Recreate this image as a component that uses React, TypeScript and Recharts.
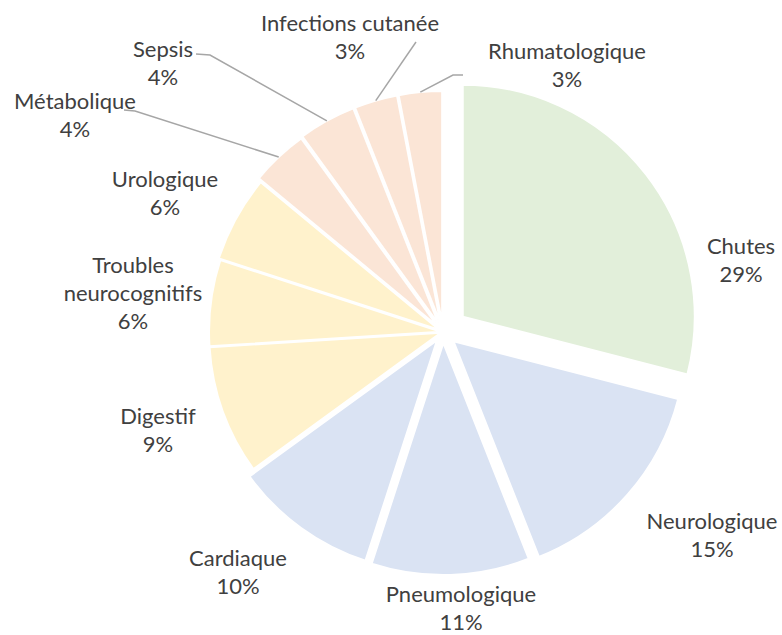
import React from "react";
import { PieChart, Pie, Cell } from "recharts";

// motifs d'hospitalisation, en % (ordre horaire depuis midi)
const categories = [
  "Chutes",
  "Neurologique",
  "Pneumologique",
  "Cardiaque",
  "Digestif",
  "Troubles neurocognitifs",
  "Urologique",
  "Métabolique",
  "Sepsis",
  "Infections cutanée",
  "Rhumatologique",
];
const shares = [29, 15, 11, 10, 9, 6, 6, 4, 4, 3, 3];

const green = "#E2EFDA";
const blue = "#DAE3F3";
const yellow = "#FFF2CC";
const peach = "#FBE5D6";
const sliceColors = [green, blue, blue, blue, yellow, yellow, yellow, peach, peach, peach, peach];

// explosion of each slice, px
const explode = [25, 14, 11, 10, 2, 2, 4, 8, 9, 9, 9];

// label placement (center x, center y of first line)
const labelPos: Record<string, [number, number]> = {
  Chutes: [741, 245],
  Neurologique: [712, 520],
  Pneumologique: [461, 593],
  Cardiaque: [238, 557],
  Digestif: [158, 415],
  "Troubles neurocognitifs": [133, 264],
  Urologique: [165, 178],
  Métabolique: [75, 100],
  Sepsis: [163, 48],
  "Infections cutanée": [350, 22],
  Rhumatologique: [567, 50],
};
const wrapLabels = ["Troubles neurocognitifs"];
const leaderStart: Record<string, [number, number][]> = {
  Métabolique: [[124, 110], [135, 111]],
  Sepsis: [[196, 54], [210, 55]],
  "Infections cutanée": [[416, 42]],
  Rhumatologique: [[463, 75], [453, 75]],
};

const W = 782;
const H = 635;
const CX = 443;
const CY = 332;
const R = 232;
const RADIAN = Math.PI / 180;
const textColor = "#404040";
const font = "Lato, 'Open Sans', sans-serif";

const total = shares.reduce((a, b) => a + b, 0);

const slices = (() => {
  let acc = 0;
  return categories.map((name, i) => {
    const f0 = acc / total;
    acc += shares[i];
    const f1 = acc / total;
    const mid = ((f0 + f1) / 2) * 2 * Math.PI;
    return {
      name,
      value: shares[i],
      startAngle: 90 - f0 * 360,
      endAngle: 90 - f1 * 360,
      dx: explode[i] * Math.sin(mid),
      dy: -explode[i] * Math.cos(mid),
    };
  });
})();

const makeLabel = (i: number) => (props: any) => {
  const name = categories[i];
  const [lx, ly] = labelPos[name];
  const lines = wrapLabels.includes(name) ? name.split(" ") : [name];
  lines.push(`${Math.round((shares[i] / total) * 100)}%`);
  const lead = leaderStart[name];
  let points = "";
  if (lead) {
    const { cx, cy, midAngle, outerRadius } = props;
    const ex = cx + outerRadius * Math.cos(-midAngle * RADIAN);
    const ey = cy + outerRadius * Math.sin(-midAngle * RADIAN);
    points = [...lead, [ex, ey]].map((p) => p.join(",")).join(" ");
  }
  return (
    <g>
      {lead && <polyline points={points} fill="none" stroke="#A6A6A6" strokeWidth={1.5} />}
      {lines.map((t, k) => (
        <text
          key={k}
          x={lx}
          y={ly + k * 28}
          textAnchor="middle"
          dominantBaseline="central"
          fontSize={22}
          fontFamily={font}
          fill={textColor}
        >
          {t}
        </text>
      ))}
    </g>
  );
};

const App = () => {
  return (
    <div style={{ position: "absolute", left: 0, top: 0, width: W, height: H, background: "#fff" }}>
      <PieChart width={W} height={H} margin={{ top: 0, right: 0, bottom: 0, left: 0 }}>
        {slices.map((s, i) => (
          <Pie
            key={s.name}
            data={[{ name: s.name, value: s.value }]}
            dataKey="value"
            nameKey="name"
            cx={CX + s.dx}
            cy={CY + s.dy}
            outerRadius={R}
            startAngle={s.startAngle}
            endAngle={s.endAngle}
            stroke="#FFFFFF"
            strokeWidth={2}
            label={makeLabel(i)}
            labelLine={false}
            isAnimationActive={false}
          >
            <Cell fill={sliceColors[i]} />
          </Pie>
        ))}
      </PieChart>
    </div>
  );
};

export default App;
